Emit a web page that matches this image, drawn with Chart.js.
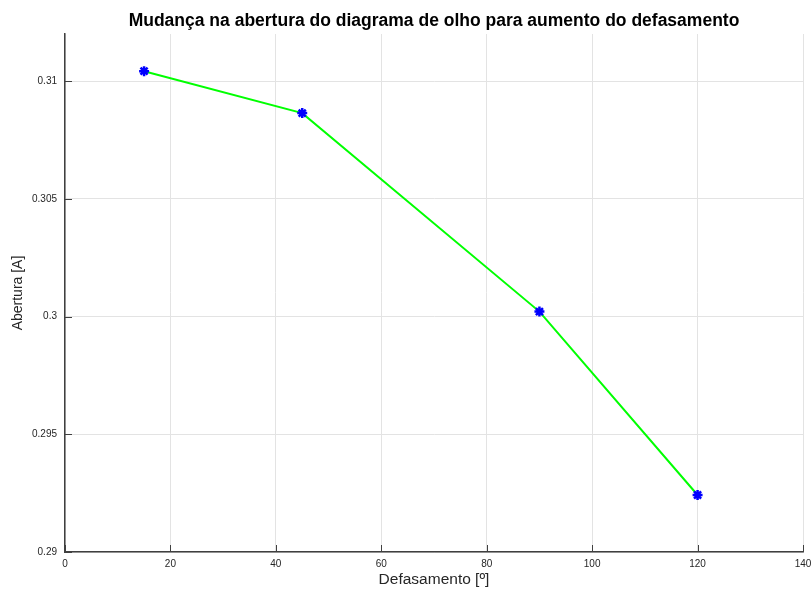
<!DOCTYPE html>
<html>
<head>
<meta charset="utf-8">
<script src="https://cdn.jsdelivr.net/npm/chart.js@4"></script>
<style>
    body { margin: 0; background: #fff; }
    #wrap { width: 811px; height: 592px; }
</style>
</head>
<body>
<div id="wrap"><canvas id="eyeChart"></canvas></div>
<script>
// Data
const phaseShift = [15, 45, 90, 120];
const eyeOpening = [0.31042, 0.30864, 0.30021, 0.29242];
const yTickValues = [0.29, 0.295, 0.3, 0.305, 0.31];
const yTickLabels = ['0.29', '0.295', '0.3', '0.305', '0.31'];
const xTickValues = [0, 20, 40, 60, 80, 100, 120, 140];

const axisColor = '#404040';
const textColor = '#262626';
const fontFamily = 'Liberation Sans, Arial, sans-serif';

// MATLAB-style ticks drawn inside the axes
const innerTicks = {
    id: 'innerTicks',
    afterDraw(chart) {
        const ctx = chart.ctx;
        const x = chart.scales.x;
        const y = chart.scales.y;
        const area = chart.chartArea;
        ctx.save();
        ctx.strokeStyle = axisColor;
        ctx.lineWidth = 1;
        xTickValues.forEach(v => {
            const px = Math.round(x.getPixelForValue(v)) + 0.5;
            ctx.beginPath();
            ctx.moveTo(px, area.bottom);
            ctx.lineTo(px, area.bottom - 7);
            ctx.stroke();
        });
        yTickValues.forEach(v => {
            const py = Math.round(y.getPixelForValue(v)) + 0.5;
            ctx.beginPath();
            ctx.moveTo(area.left, py);
            ctx.lineTo(area.left + 7, py);
            ctx.stroke();
        });
        ctx.restore();
    }
};

new Chart(document.getElementById('eyeChart'), {
    type: 'line',
    data: {
        datasets: [{
            data: phaseShift.map((p, i) => ({ x: p, y: eyeOpening[i] })),
            borderColor: '#00ff00',
            borderWidth: 2,
            pointStyle: 'star',
            pointRadius: 5,
            pointBorderColor: '#0000ff',
            pointBackgroundColor: '#0000ff',
            pointBorderWidth: 2.5,
            tension: 0
        }]
    },
    options: {
        responsive: true,
        maintainAspectRatio: false,
        animation: false,
        layout: { padding: 0 },
        plugins: {
            legend: { display: false },
            tooltip: { enabled: false },
            title: {
                display: true,
                fullSize: false,
                text: 'Mudança na abertura do diagrama de olho para aumento do defasamento',
                color: '#000',
                font: { family: fontFamily, size: 17.5, weight: 'bold', lineHeight: 1.2 },
                padding: { top: 11, bottom: 2 }
            }
        },
        scales: {
            x: {
                type: 'linear',
                min: 0,
                max: 140,
                afterBuildTicks: scale => { scale.ticks = xTickValues.map(v => ({ value: v })); },
                afterFit: scale => {
                    scale.height = 40;
                    scale.paddingRight = 8;
                },
                ticks: {
                    color: textColor,
                    padding: 6,
                    font: { family: fontFamily, size: 10 },
                    maxRotation: 0
                },
                grid: { color: '#e3e3e3', drawTicks: false },
                border: { color: axisColor, width: 1.5 },
                title: {
                    display: true,
                    text: 'Defasamento [º]',
                    color: textColor,
                    font: { family: fontFamily, size: 15.5 },
                    padding: { top: 3, bottom: 3 }
                }
            },
            y: {
                type: 'linear',
                min: 0.29,
                max: 0.312,
                afterBuildTicks: scale => { scale.ticks = yTickValues.map(v => ({ value: v })); },
                afterFit: scale => { scale.width = 65; },
                ticks: {
                    color: textColor,
                    padding: 8,
                    font: { family: fontFamily, size: 10 },
                    callback: (value, i) => yTickLabels[i]
                },
                grid: { color: '#e3e3e3', drawTicks: false },
                border: { color: axisColor, width: 1.5 },
                title: {
                    display: true,
                    text: 'Abertura [A]',
                    color: textColor,
                    font: { family: fontFamily, size: 14 },
                    padding: { top: 10, bottom: 10 }
                }
            }
        }
    },
    plugins: [innerTicks]
});
</script>
</body>
</html>
